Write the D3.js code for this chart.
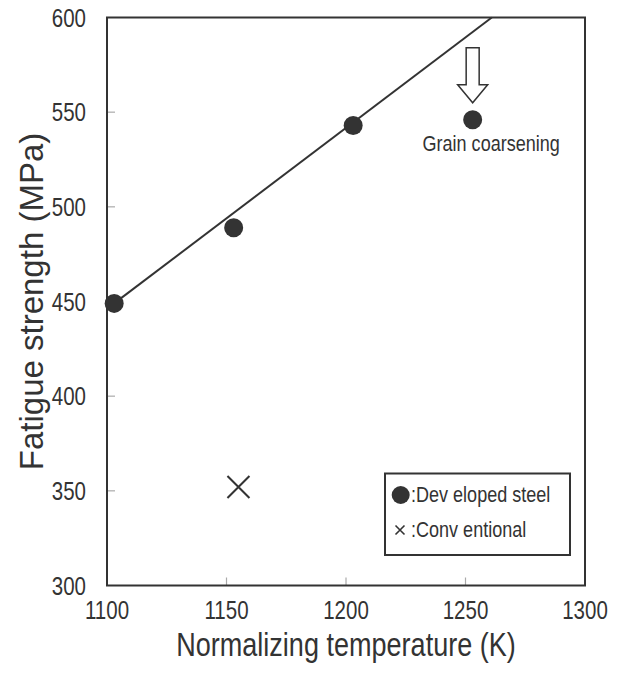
<!DOCTYPE html>
<html>
<head>
<meta charset="utf-8">
<script src="https://cdn.jsdelivr.net/npm/d3@7"></script>
<style>
  body { margin: 0; background: #fff; }
  text { font-family: "Liberation Sans", Arial, sans-serif; fill: #333; }
</style>
</head>
<body>
<div id="chart"></div>
<script>
// Data
var xTicks = [1100, 1150, 1200, 1250, 1300];
var yTicks = [300, 350, 400, 450, 500, 550, 600];
var developedTemp = [1103, 1153, 1203, 1253];
var developedStrength = [449, 489, 543, 546];
var conventionalTemp = [1155];
var conventionalStrength = [352];
var fitLine = [[1103, 449], [1261, 600]];   // trend line through the first three points
var coarsenIndex = 3;                        // point marked "Grain coarsening"

var width = 627, height = 674;
var squeeze = 0.82;   // the original uses a narrow face

var svg = d3.select("#chart").append("svg")
    .attr("width", width)
    .attr("height", height);

var x = d3.scaleLinear().domain([1100, 1300]).range([107, 585]);
var y = d3.scaleLinear().domain([300, 600]).range([585.5, 17.5]);

// narrow text helper
function narrowText(g, px, py, str, size, anchor) {
    return g.append("text")
        .attr("transform", "translate(" + px + "," + py + ") scale(" + squeeze + ",1)")
        .attr("text-anchor", anchor || "middle")
        .style("font-size", size + "px")
        .text(str);
}

// inner tick marks (light gray, interior only)
var ticksG = svg.append("g");
ticksG.selectAll("line.xt")
    .data(xTicks.slice(1, -1))
    .enter().append("line")
    .attr("x1", function(d){ return x(d); })
    .attr("x2", function(d){ return x(d); })
    .attr("y1", y(300))
    .attr("y2", y(300) - 8)
    .attr("stroke", "#aaa").attr("stroke-width", 1.2);
ticksG.selectAll("line.yt")
    .data(yTicks.slice(1, -1))
    .enter().append("line")
    .attr("x1", x(1100))
    .attr("x2", x(1100) + 8)
    .attr("y1", function(d){ return y(d); })
    .attr("y2", function(d){ return y(d); })
    .attr("stroke", "#aaa").attr("stroke-width", 1.2);

// frame
svg.append("rect")
    .attr("x", x(1100)).attr("y", y(600))
    .attr("width", x(1300) - x(1100))
    .attr("height", y(300) - y(600))
    .attr("fill", "none")
    .attr("stroke", "#333")
    .attr("stroke-width", 2);

// tick labels
var labels = svg.append("g");
xTicks.forEach(function(d) {
    narrowText(labels, x(d), y(300) + 33, d, 25, "middle");
});
yTicks.forEach(function(d) {
    narrowText(labels, x(1100) - 21, y(d) + 9, d, 25, "end");
});

// axis titles
narrowText(svg, (x(1100) + x(1300)) / 2, 656, "Normalizing temperature (K)", 33, "middle");
svg.append("text")
    .attr("transform", "translate(43," + (y(450)) + ") rotate(-90)")
    .attr("text-anchor", "middle")
    .style("font-size", "33px")
    .text("Fatigue strength (MPa)");

// trend line
svg.append("line")
    .attr("x1", x(fitLine[0][0])).attr("y1", y(fitLine[0][1]))
    .attr("x2", x(fitLine[1][0])).attr("y2", y(fitLine[1][1]))
    .attr("stroke", "#333")
    .attr("stroke-width", 2);

// developed steel points
svg.selectAll("circle.dev")
    .data(developedTemp.map(function(t, i){ return {t: t, s: developedStrength[i]}; }))
    .enter().append("circle")
    .attr("cx", function(d){ return x(d.t); })
    .attr("cy", function(d){ return y(d.s); })
    .attr("r", 9.5)
    .attr("fill", "#333");

// conventional point (cross)
var crossSize = 11;
conventionalTemp.forEach(function(t, i) {
    var cx = x(t), cy = y(conventionalStrength[i]);
    svg.append("path")
        .attr("d", "M" + (cx - crossSize) + "," + (cy - crossSize) + "L" + (cx + crossSize) + "," + (cy + crossSize) +
                   "M" + (cx + crossSize) + "," + (cy - crossSize) + "L" + (cx - crossSize) + "," + (cy + crossSize))
        .attr("stroke", "#333")
        .attr("stroke-width", 2)
        .attr("fill", "none");
});

// hollow arrow pointing at the coarsened point
var ax = x(developedTemp[coarsenIndex]), ay = y(developedStrength[coarsenIndex]);
var arrowPts = [
    [ax - 6.5, ay - 72], [ax + 6.5, ay - 72], [ax + 6.5, ay - 35], [ax + 15, ay - 35],
    [ax, ay - 17], [ax - 15, ay - 35], [ax - 6.5, ay - 35]
];
svg.append("path")
    .attr("d", d3.line()(arrowPts) + "Z")
    .attr("fill", "#fff")
    .attr("stroke", "#333")
    .attr("stroke-width", 1.5);
narrowText(svg, ax + 18.5, ay + 31, "Grain coarsening", 22, "middle");

// legend
var legend = svg.append("g");
legend.append("rect")
    .attr("x", 385).attr("y", 473.5)
    .attr("width", 185).attr("height", 81.5)
    .attr("fill", "#fff")
    .attr("stroke", "#333")
    .attr("stroke-width", 2);
legend.append("circle")
    .attr("cx", 400.7).attr("cy", 495)
    .attr("r", 9)
    .attr("fill", "#333");
narrowText(legend, 411, 502, ":Dev eloped steel", 22, "start");
legend.append("path")
    .attr("d", "M395.5,525.5L404.5,534.5M404.5,525.5L395.5,534.5")
    .attr("stroke", "#333")
    .attr("stroke-width", 1.6);
narrowText(legend, 411, 537, ":Conv entional", 22, "start");
</script>
</body>
</html>
